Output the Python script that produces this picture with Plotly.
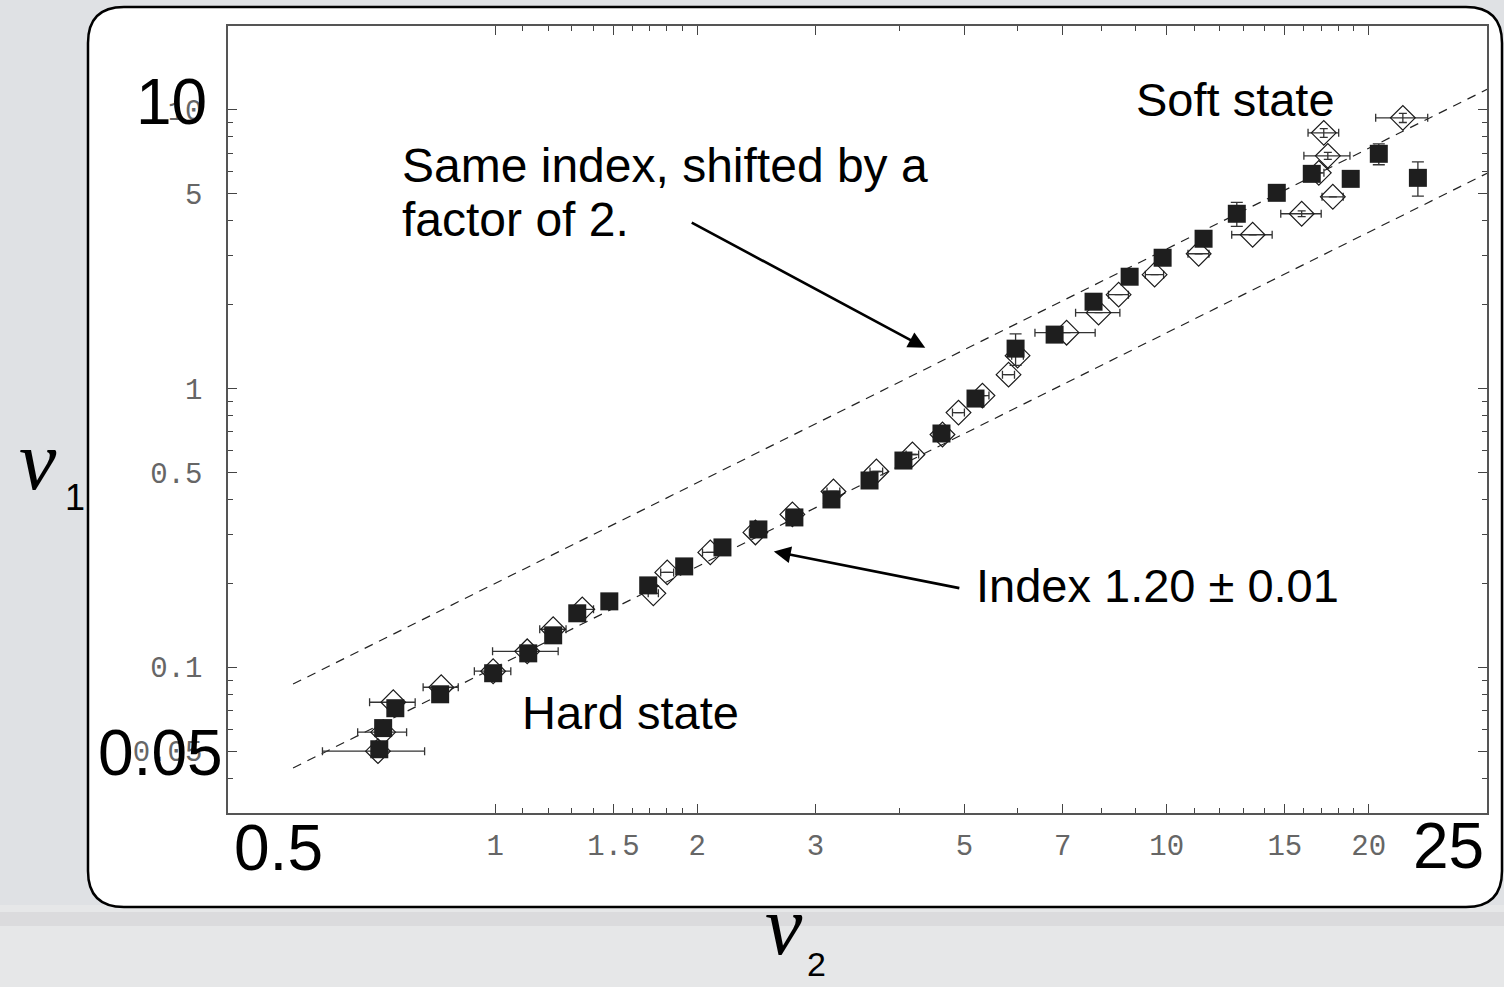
import math
import plotly.graph_objects as go

# ---------------------------------------------------------------- data
# filled squares
sq_x = [0.672, 0.681, 0.710, 0.828, 0.993, 1.120, 1.220, 1.325, 1.479, 1.690,
        1.912, 2.180, 2.466, 2.790, 3.168, 3.610, 4.055, 4.620, 5.192, 5.957,
        6.810, 7.783, 8.808, 9.863, 11.35, 12.72, 14.59, 16.45, 18.80, 20.70, 23.67]
sq_y = [0.0508, 0.0605, 0.0713, 0.0800, 0.0952, 0.1122, 0.1302, 0.1562, 0.1724, 0.1967,
        0.2301, 0.2692, 0.3123, 0.3449, 0.4001, 0.4680, 0.5519, 0.690, 0.921, 1.391,
        1.562, 2.050, 2.520, 2.948, 3.449, 4.239, 5.040, 5.896, 5.657, 6.957, 5.704]
sq_yerr = [0, 0, 0, 0, 0, 0, 0, 0, 0, 0,
           0, 0, 0, 0, 0, 0, 0, 0, 0, 0.18,
           0, 0, 0, 0, 0, 0.42, 0, 0, 0, 0.60, 0.80]

# open diamonds
dm_x = [0.669, 0.681, 0.705, 0.831, 0.993, 1.116, 1.220, 1.348, 1.720, 1.804,
        2.091, 2.441, 2.771, 3.190, 3.696, 4.182, 4.636, 4.898, 5.317, 5.815,
        5.998, 7.096, 7.918, 8.482, 9.596, 11.16, 13.43, 15.89, 17.68, 16.85,
        17.38, 17.14, 22.48]
dm_y = [0.0500, 0.0585, 0.0749, 0.0848, 0.0968, 0.1141, 0.1369, 0.1614, 0.1842, 0.2190,
        0.2584, 0.3047, 0.3536, 0.4274, 0.5041, 0.5801, 0.6842, 0.8202, 0.9438, 1.122,
        1.313, 1.587, 1.873, 2.173, 2.563, 3.047, 3.565, 4.239, 4.877, 5.945,
        6.842, 8.271, 9.362]
dm_xerr = [0.116, 0.057, 0.055, 0.050, 0.062, 0.125, 0.055, 0.053, 0.030, 0.040,
           0.055, 0.050, 0.060, 0.070, 0.080, 0.090, 0.100, 0.100, 0.120, 0.120,
           0.120, 0.730, 0.600, 0.290, 0.300, 0.400, 0.930, 1.100, 0.640, 0.300,
           1.370, 0.900, 2.000]
dm_yerr = [0, 0, 0, 0, 0, 0, 0, 0, 0, 0,
           0, 0, 0, 0, 0, 0, 0, 0, 0, 0,
           0, 0, 0, 0, 0, 0, 0, 0.10, 0, 0,
           0.20, 0.30, 0.35]

# power-law fit and the same law shifted by a factor of two
INDEX = 1.20
NORM = 0.10
SHIFT = 2.0
fit_x = [0.5, 30.0]

# axes
x_range = [0.4, 30.0]
y_range = [0.03, 20.0]
x_major = [1, 1.5, 2, 3, 5, 7, 10, 15, 20]
x_major_text = ["1", "1.5", "2", "3", "5", "7", "10", "15", "20"]
x_minor = [1.1, 1.2, 1.3, 1.4, 1.6, 1.7, 1.8, 1.9, 4, 6, 8, 9,
           11, 12, 13, 14, 16, 17, 18, 19]
y_major = [0.05, 0.1, 0.5, 1, 5, 10]
y_major_text = ["0.05", "0.1", "0.5", "1", "5", "10"]
y_minor = [0.04, 0.06, 0.07, 0.08, 0.09, 0.2, 0.3, 0.4, 0.6, 0.7, 0.8, 0.9,
           2, 3, 4, 6, 7, 8, 9]

# ---------------------------------------------------------------- page geometry
W, H = 1504, 987
L, R, T, B = 228, 1487, 26, 813


def paper(px, py):
    """pixel position on the page -> paper coordinates"""
    return (px - L) / (R - L), (B - py) / (B - T)


TEXT_FONT = "Liberation Sans, Arial, sans-serif"
MONO_FONT = "Liberation Mono, Courier New, monospace"

fig = go.Figure()

fit_y = [NORM * v ** INDEX for v in fit_x]
fit_y2 = [SHIFT * NORM * v ** INDEX for v in fit_x]
for yy in (fit_y, fit_y2):
    fig.add_trace(go.Scatter(
        x=fit_x, y=yy, mode="lines",
        line=dict(color="#222222", width=1.2, dash="9px,7px"),
        hoverinfo="skip", showlegend=False))

fig.add_trace(go.Scatter(
    x=dm_x, y=dm_y, mode="markers",
    marker=dict(symbol="diamond-open", size=19, color="#1a1a1a",
                line=dict(width=1.2, color="#1a1a1a")),
    error_x=dict(type="data", array=dm_xerr, color="#333333", thickness=1.3, width=4),
    error_y=dict(type="data", array=dm_yerr, color="#333333", thickness=1.3, width=4),
    showlegend=False))

fig.add_trace(go.Scatter(
    x=sq_x, y=sq_y, mode="markers",
    marker=dict(symbol="square", size=18, color="#1e1e1e",
                line=dict(width=0)),
    error_y=dict(type="data", array=sq_yerr, color="#333333", thickness=1.3, width=6),
    showlegend=False))

# white rounded panel behind the plot
x0, y0, x1, y1, rad = 88, 7, 1502, 907, 36
pts = [
    ("M", [(x0 + rad, y0)]),
    ("L", [(x1 - rad, y0)]),
    ("Q", [(x1, y0), (x1, y0 + rad)]),
    ("L", [(x1, y1 - rad)]),
    ("Q", [(x1, y1), (x1 - rad, y1)]),
    ("L", [(x0 + rad, y1)]),
    ("Q", [(x0, y1), (x0, y1 - rad)]),
    ("L", [(x0, y0 + rad)]),
    ("Q", [(x0, y0), (x0 + rad, y0)]),
]
path = ""
for cmd, plist in pts:
    path += cmd + " ".join("%.5f,%.5f" % paper(px, py) for px, py in plist) + " "
path += "Z"

shapes = [
    # pale snowy ground in the page background, with a faint horizon band
    dict(type="rect", xref="paper", yref="paper", layer="below",
         x0=paper(0, 0)[0], x1=paper(W, 0)[0], y0=paper(0, 905)[1], y1=paper(0, H)[1],
         fillcolor="#e6e7e8", line=dict(width=0)),
    dict(type="rect", xref="paper", yref="paper", layer="below",
         x0=paper(0, 0)[0], x1=paper(W, 0)[0], y0=paper(0, 912)[1], y1=paper(0, 926)[1],
         fillcolor="#d3d4d5", opacity=0.6, line=dict(width=0)),
    dict(type="path", xref="paper", yref="paper", layer="below", path=path,
         fillcolor="white", line=dict(color="black", width=2.5)),
]

annotations = []


def add_text(text, px, py, size, xanchor="left", font=TEXT_FONT, color="black"):
    xp, yp = paper(px, py)
    annotations.append(dict(text=text, x=xp, y=yp, xref="paper", yref="paper",
                            xanchor=xanchor, yanchor="middle", showarrow=False,
                            font=dict(family=font, size=size, color=color)))


add_text("Same index, shifted by a", 400, 166, 48)
add_text("factor of 2.", 400, 219, 48)
add_text("Soft state", 1134, 100, 47)
add_text("Index 1.20 ± 0.01", 974, 585, 47)
add_text("Hard state", 520, 712, 47)

# big corner values of the axes
add_text("10", 171, 102, 64, xanchor="center")
add_text("0.05", 160, 753, 64, xanchor="center")
add_text("0.5", 278, 848, 64, xanchor="center")
add_text("25", 1448, 846, 64, xanchor="center")

# axis names
add_text("<i>ν</i>", 38, 460, 84, xanchor="center", font="Liberation Serif, serif")
add_text("1", 75, 497, 36, xanchor="center")
add_text("<i>ν</i>", 784, 926, 84, xanchor="center", font="Liberation Serif, serif")
add_text("2", 816, 964, 34, xanchor="center")


def arrow(head, tail):
    annotations.append(dict(
        x=math.log10(head[0]), y=math.log10(head[1]), xref="x", yref="y",
        ax=tail[0], ay=tail[1], axref="pixel", ayref="pixel",
        text="", showarrow=True, arrowhead=2, arrowsize=1.3, arrowwidth=2.6,
        arrowcolor="black"))


# arrow onto the shifted line, and onto the fitted line
arrow((4.37, 1.40), (-235, -126))
arrow((2.60, 0.2605), (187, 37))

axis_common = dict(
    type="log", showgrid=False, zeroline=False, showline=True,
    linecolor="#555555", linewidth=1.5, mirror="ticks",
    ticks="inside", ticklen=9, tickwidth=1.2, tickcolor="#444444",
    tickmode="array",
    tickfont=dict(family=MONO_FONT, size=29, color="#666666"),
)

fig.update_layout(
    width=W, height=H,
    margin=dict(l=L, r=W - R, t=T, b=H - B, pad=0),
    paper_bgcolor="#dfe1e4",
    plot_bgcolor="white",
    xaxis=dict(axis_common, range=[math.log10(v) for v in x_range],
               tickvals=x_major, ticktext=x_major_text, ticklabelstandoff=5,
               minor=dict(tickmode="array", tickvals=x_minor, ticks="inside",
                          ticklen=5, tickwidth=1.2, tickcolor="#444444")),
    yaxis=dict(axis_common, range=[math.log10(v) for v in y_range],
               tickvals=y_major, ticktext=y_major_text, ticklabelstandoff=18,
               minor=dict(tickmode="array", tickvals=y_minor, ticks="inside",
                          ticklen=5, tickwidth=1.2, tickcolor="#444444")),
    shapes=shapes,
    annotations=annotations,
)

fig.write_html("out.html")
